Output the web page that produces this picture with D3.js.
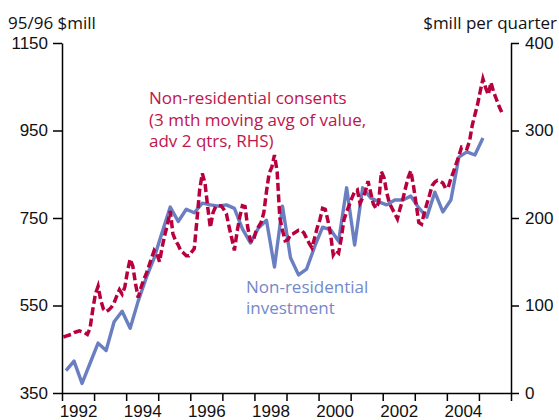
<!DOCTYPE html>
<html>
<head>
<meta charset="utf-8">
<script src="https://cdn.jsdelivr.net/npm/d3@7"></script>
<style>
  body { margin: 0; background: #fff; }
  svg { font-family: "Open Sans", sans-serif; }
  .axis path, .axis line { stroke: #000; stroke-width: 1.5; }
  .axis text { font-size: 17px; fill: #111; }
</style>
</head>
<body>
<div id="chart"></div>
<script>
// Non-residential investment, quarterly, 95/96 $mill (LHS), from 1992 Q1
var investment = [401, 423, 372, 418, 464, 447, 513, 537, 498, 560, 613, 659, 718,
    775, 742, 770, 762, 784, 780, 777, 780, 772, 725, 693, 727, 745, 638, 777,
    659, 620, 633, 684, 729, 723, 697, 819, 688, 819, 796, 787, 780, 791, 791,
    800, 773, 752, 809, 764, 791, 889, 901, 894, 933];

// Non-residential consents, monthly, 3 mth moving avg, adv 2 qtrs, $mill per quarter (RHS), from Jan 1992
var consents = [64, 65, 66, 67, 69, 70, 71, 70, 69, 67, 74, 95, 113, 122, 106, 96,
    93, 95, 98, 103, 111, 118, 113, 121, 139, 153, 145, 125, 109, 120, 129, 136,
    145, 154, 163, 159, 150, 167, 181, 193, 208, 182, 174, 169, 162, 160, 157, 157,
    161, 165, 198, 232, 251, 240, 213, 189, 206, 213, 214, 214, 210, 205, 190, 177,
    163, 184, 201, 214, 213, 189, 174, 173, 184, 190, 195, 206, 230, 251, 258, 272,
    253, 200, 186, 174, 175, 181, 182, 184, 186, 186, 183, 177, 171, 166, 177, 189,
    198, 211, 210, 197, 181, 158, 163, 160, 177, 198, 207, 215, 223, 230, 232, 217,
    223, 230, 242, 229, 216, 211, 218, 253, 246, 229, 217, 211, 205, 199, 211, 221,
    234, 246, 254, 237, 216, 195, 193, 205, 216, 226, 237, 241, 243, 242, 240, 234,
    235, 245, 253, 262, 271, 281, 280, 279, 288, 306, 318, 330, 345, 359, 349, 341,
    355, 344, 336, 328, 321];

var leftTicks = [350, 550, 750, 950, 1150];
var rightTicks = [0, 100, 200, 300, 400];
var yearLabels = [1992, 1994, 1996, 1998, 2000, 2002, 2004];
var startYear = 1992, endYear = 2006;

var width = 559,
    height = 420,
    margin = {top: 43, right: 48, bottom: 27, left: 62};

var svg = d3.select("#chart")
    .append("svg")
    .attr("width", width)
    .attr("height", height);

var x = d3.scaleLinear()
    .domain([startYear, endYear])
    .range([margin.left, width - margin.right]);

var yLeft = d3.scaleLinear()
    .domain([350, 1150])
    .range([height - margin.bottom, margin.top]);

var yRight = d3.scaleLinear()
    .domain([0, 400])
    .range([height - margin.bottom, margin.top]);

// quarterly points sit mid-quarter, monthly points mid-month
var invData = investment.map((v, i) => ({date: startYear + i / 4 + 0.125, value: v}));
var conData = consents.map((v, i) => ({date: startYear + (i + 0.5) / 12, value: v}));

// Axes
svg.append("g")
    .attr("class", "axis")
    .attr("transform", `translate(${margin.left}, 0)`)
    .call(d3.axisLeft(yLeft).tickValues(leftTicks).tickFormat(d3.format("d"))
        .tickSize(9).tickSizeOuter(0).tickPadding(5));

svg.append("g")
    .attr("class", "axis")
    .attr("transform", `translate(${width - margin.right}, 0)`)
    .call(d3.axisRight(yRight).tickValues(rightTicks).tickFormat(d3.format("d"))
        .tickSize(8).tickSizeOuter(0).tickPadding(6));

svg.append("g")
    .attr("class", "axis")
    .attr("transform", `translate(0, ${height - margin.bottom})`)
    .call(d3.axisBottom(x).tickValues(d3.range(startYear, endYear + 1)).tickSize(8).tickSizeOuter(0).tickFormat(""));

// year labels centred in their year
var xLabels = svg.append("g")
    .attr("class", "axis")
    .attr("transform", `translate(0, ${height - margin.bottom})`)
    .call(d3.axisBottom(x).tickValues(yearLabels.map(d => d + 0.5)).tickSize(0).tickPadding(12)
        .tickFormat(d => Math.floor(d)));
xLabels.select(".domain").remove();

// Lines
var line = (yScale) => d3.line()
    .x(d => x(d.date))
    .y(d => yScale(d.value));

svg.append("path")
    .datum(invData)
    .attr("fill", "none")
    .attr("stroke", "#6a7fc1")
    .attr("stroke-width", 3.4)
    .attr("stroke-linejoin", "round")
    .attr("d", line(yLeft));

svg.append("path")
    .datum(conData)
    .attr("fill", "none")
    .attr("stroke", "#b8003f")
    .attr("stroke-width", 3.5)
    .attr("stroke-dasharray", "8,3.5")
    .attr("d", line(yRight));

// Axis titles
svg.append("text")
    .attr("x", 8)
    .attr("y", 29)
    .style("font-size", "17px")
    .attr("fill", "#111")
    .text("95/96 $mill");

svg.append("text")
    .attr("x", 557)
    .attr("y", 29)
    .style("font-size", "17px")
    .style("text-anchor", "end")
    .attr("fill", "#111")
    .text("$mill per quarter");

// Series labels
var redLabel = ["Non-residential consents", "(3 mth moving avg of value,", "adv 2 qtrs, RHS)"];
svg.append("text")
    .attr("fill", "#c0144d")
    .style("font-size", "17px")
    .selectAll("tspan")
    .data(redLabel)
    .join("tspan")
    .attr("x", 149)
    .attr("y", (d, i) => 104 + i * 21.5)
    .text(d => d);

var blueLabel = ["Non-residential", "investment"];
svg.append("text")
    .attr("fill", "#7389cb")
    .style("font-size", "17px")
    .selectAll("tspan")
    .data(blueLabel)
    .join("tspan")
    .attr("x", 246)
    .attr("y", (d, i) => 292.5 + i * 21)
    .text(d => d);
</script>
</body>
</html>
